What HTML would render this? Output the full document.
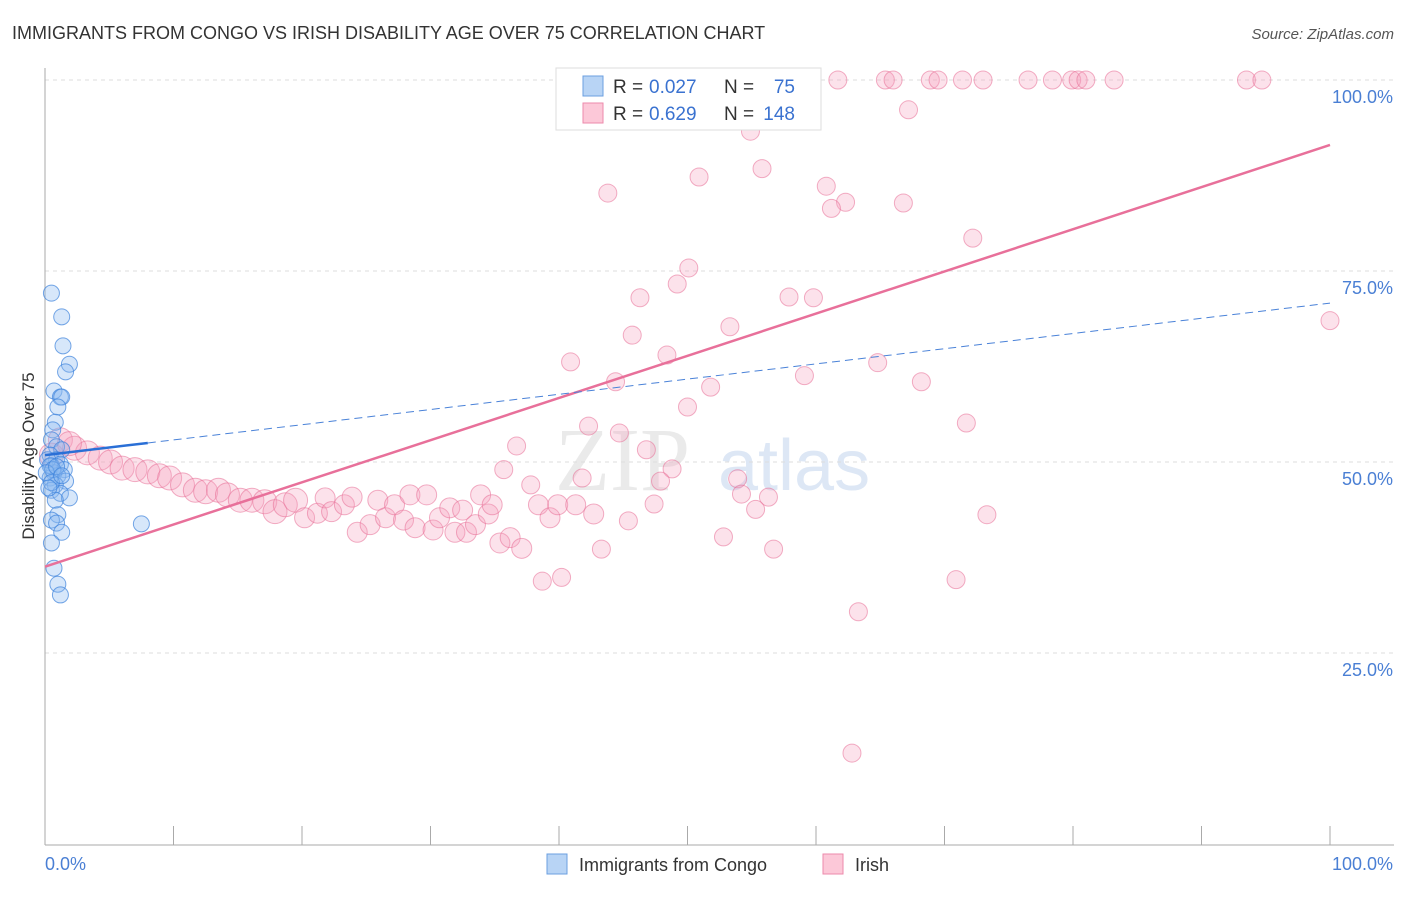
<!DOCTYPE html>
<html><head><meta charset="utf-8"><style>
body{margin:0;background:#fff;font-family:"Liberation Sans",sans-serif}
</style></head><body>
<svg id="c" width="1406" height="892" viewBox="0 0 1406 892" xmlns="http://www.w3.org/2000/svg" font-family="Liberation Sans, sans-serif">
<text x="12" y="39" font-size="18" fill="#333">IMMIGRANTS FROM CONGO VS IRISH DISABILITY AGE OVER 75 CORRELATION CHART</text>
<text x="1394" y="39" font-size="15" fill="#555" text-anchor="end" font-style="italic">Source: ZipAtlas.com</text>
<text x="555" y="490" font-size="90" fill="#ddd" font-family="Liberation Serif, serif" opacity="0.6">ZIP</text>
<text x="718" y="490" font-size="72" fill="#c8d8f0" opacity="0.6">atlas</text>
<g id="grid"></g><g id="axes"></g><g id="pink"></g><g id="blue"></g><g id="lines"></g>
<text transform="translate(34,456) rotate(-90)" font-size="17" fill="#333" text-anchor="middle">Disability Age Over 75</text>
<g>
<rect x="556" y="68" width="265" height="62" fill="#fff" stroke="#ddd"/>
<rect x="583" y="76" width="20" height="20" fill="#b8d4f5" stroke="#6b9fe0"/>
<rect x="583" y="103" width="20" height="20" fill="#fcc8d8" stroke="#ec8aab"/>
<text x="613" y="93" font-size="19" fill="#333">R =</text>
<text x="649" y="93" font-size="19" fill="#3a72d0">0.027</text>
<text x="724" y="93" font-size="19" fill="#333">N =</text>
<text x="795" y="93" font-size="19" fill="#3a72d0" text-anchor="end">75</text>
<text x="613" y="120" font-size="19" fill="#333">R =</text>
<text x="649" y="120" font-size="19" fill="#3a72d0">0.629</text>
<text x="724" y="120" font-size="19" fill="#333">N =</text>
<text x="795" y="120" font-size="19" fill="#3a72d0" text-anchor="end">148</text>
</g>
<g>
<rect x="547" y="854" width="20" height="20" fill="#b8d4f5" stroke="#6b9fe0"/>
<text x="579" y="871" font-size="18" fill="#333">Immigrants from Congo</text>
<rect x="823" y="854" width="20" height="20" fill="#fcc8d8" stroke="#ec8aab"/>
<text x="855" y="871" font-size="18" fill="#333">Irish</text>
</g>
</svg>
<script>
const yTicks=[25,50,75,100];
const yTickLabels=["25.0%","50.0%","75.0%","100.0%"];
const xTickLabels=["0.0%","100.0%"];
const blueX=[0.5,1.3,1.4,1.9,1.6,0.7,1.2,1.3,1.0,0.8,0.6,0.5,0.9,1.3,0.4,0.9,1.2,0.5,1.5,0.7,1.0,0.4,1.6,0.8,0.5,1.2,1.9,0.8,1.0,0.5,0.9,1.3,0.5,0.7,1.0,1.2,7.5,0.2,0.4,0.6,0.1,0.9,0.5,0.3,1.3];
const blueY=[72.1,69.0,65.2,62.8,61.8,59.3,58.5,58.5,57.2,55.2,54.2,52.9,52.0,51.6,50.9,50.3,49.7,49.5,49.0,48.6,48.2,47.9,47.5,47.0,46.3,45.9,45.3,45.0,43.1,42.4,42.0,40.8,39.4,36.1,34.0,32.6,41.9,50.3,49.5,49.0,48.6,49.4,47.3,46.6,48.2];
const pinkX=[54.5,61.7,65.4,66.0,68.9,69.5,71.4,73.0,76.5,78.4,79.9,80.4,81.0,83.2,93.5,94.7,67.2,54.9,55.8,50.9,43.8,60.8,62.3,61.2,66.8,72.2,50.1,49.2,46.3,57.9,59.8,100,53.3,45.7,48.4,40.9,64.8,59.1,44.4,68.2,51.8,50.0,42.3,71.7,44.7,36.7,46.8,48.8,35.7,41.8,47.9,37.8,53.9,54.2,56.3,47.4,55.3,73.3,45.4,52.8,56.7,43.3,70.9,40.2,38.7,63.3,62.8,
1.2,2.3,3.3,4.3,5.1,6.0,7.0,8.0,8.9,9.7,10.7,11.7,12.5,13.5,14.2,15.2,16.1,17.1,17.9,18.7,19.5,20.2,21.2,21.8,22.3,23.3,23.9,24.3,25.3,25.9,26.5,27.2,27.9,28.4,28.8,29.7,30.2,30.7,31.5,31.9,32.5,32.8,33.5,33.9,34.5,34.8,35.4,36.2,37.1,38.4,39.3,39.9,41.3,42.7,0.5,1.9];
const pinkY=[100,100,100,100,100,100,100,100,100,100,100,100,100,100,100,100,96.1,93.3,88.4,87.3,85.2,86.1,84.0,83.2,83.9,79.3,75.4,73.3,71.5,71.6,71.5,68.5,67.7,66.6,64.0,63.1,63.0,61.3,60.5,60.5,59.8,57.2,54.7,55.1,53.8,52.1,51.6,49.1,49.0,47.9,47.5,47.0,47.8,45.8,45.4,44.5,43.8,43.1,42.3,40.2,38.6,38.6,34.6,34.9,34.4,30.4,11.9,
52.9,51.8,51.2,50.5,50.0,49.2,49.0,48.7,48.2,47.9,47.0,46.3,46.1,46.3,45.7,45.0,45.0,44.8,43.5,44.4,45.0,42.7,43.3,45.3,43.5,44.4,45.4,40.8,41.8,45.0,42.7,44.4,42.4,45.7,41.4,45.7,41.1,42.7,44.0,40.8,43.7,40.8,41.8,45.7,43.2,44.4,39.4,40.1,38.7,44.4,42.7,44.4,44.4,43.2,50.9,52.4];
const pinkFit=[36.3,91.5];
const blueFit=[50.9,70.8];
const X0=45,X1=1330,Y0=844,YS=7.64;
const sx=v=>X0+(X1-X0)*v/100, sy=v=>Y0-YS*v;
const NS="http://www.w3.org/2000/svg";
function mk(p,t,a){const e=document.createElementNS(NS,t);for(const k in a)e.setAttribute(k,a[k]);document.getElementById(p).appendChild(e);return e;}
yTicks.forEach((t,i)=>{
 const g=mk('grid','line',{x1:45,x2:1394,y1:sy(t),y2:sy(t),stroke:'#ddd','stroke-dasharray':'4,4'});
 
 
 const l=mk('axes','text',{x:1393,y:sy(t)+23,'font-size':18,fill:'#4a7fd4','text-anchor':'end'});
 l.textContent=yTickLabels[i];
 
 
});
const ax=mk('axes','line',{x1:45,x2:45,y1:68,y2:845,stroke:'#aaa'});


const bx=mk('axes','line',{x1:45,x2:1394,y1:845,y2:845,stroke:'#aaa'});


for(let i=0;i<=10;i++){const t=mk('axes','line',{x1:sx(i*10),x2:sx(i*10),y1:826,y2:845,stroke:'#aaa'});
 
 }
xTickLabels.forEach((s,i)=>{const l=mk('axes','text',{x:i?1393:45,y:870,'font-size':18,fill:'#4a7fd4','text-anchor':i?'end':'start'});
 l.textContent=s;
 
 });
pinkX.forEach((v,i)=>{const r=(i>=67)?(v<20?12:10):9;
 const c=mk('pink','circle',{cx:sx(v),cy:sy(pinkY[i]),r:r,fill:'rgba(246,160,190,0.3)',stroke:'rgba(232,110,150,0.55)'});
 
 });
blueX.forEach((v,i)=>{const c=mk('blue','circle',{cx:sx(v),cy:sy(blueY[i]),r:8,fill:'rgba(140,185,240,0.35)',stroke:'rgba(60,130,220,0.7)'});
 
 });
const pl=mk('lines','line',{x1:sx(0),y1:sy(pinkFit[0]),x2:sx(100),y2:sy(pinkFit[1]),stroke:'#e8709a','stroke-width':2.5});


const bm=blueFit[0]+(blueFit[1]-blueFit[0])*0.08;
const bl=mk('lines','line',{x1:sx(0),y1:sy(blueFit[0]),x2:sx(8),y2:sy(bm),stroke:'#2a6fd6','stroke-width':2.5});


const bd=mk('lines','line',{x1:sx(8),y1:sy(bm),x2:sx(100),y2:sy(blueFit[1]),stroke:'#4a82d8','stroke-width':1,'stroke-dasharray':'8,5'});


</script>
</body></html>
